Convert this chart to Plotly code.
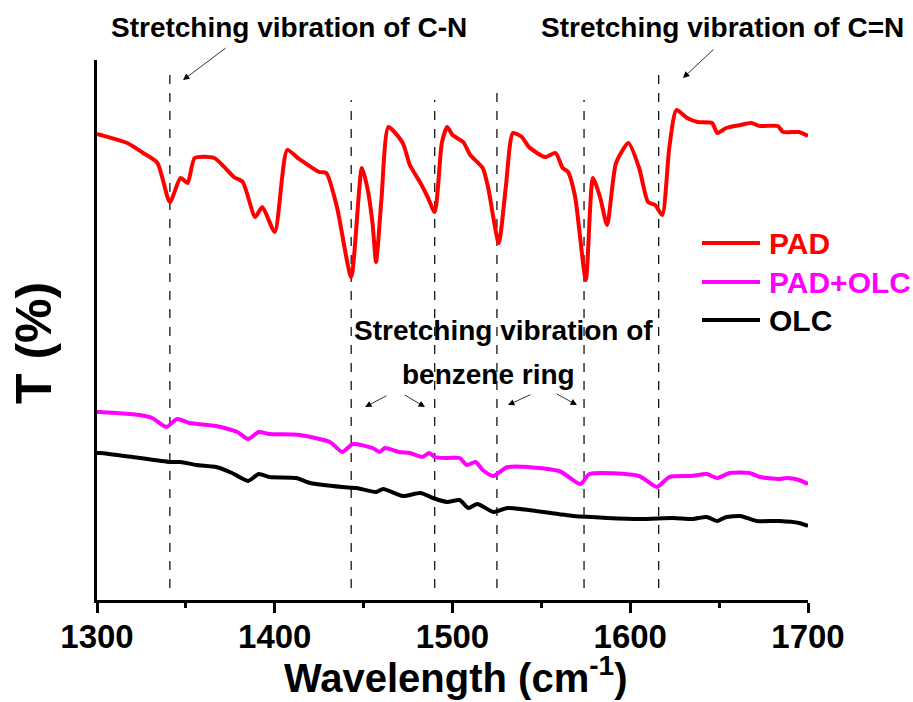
import plotly.graph_objects as go

# Wavenumber (cm-1) and transmittance (arbitrary units)
pad_x = [1300, 1302, 1317, 1326, 1334, 1341, 1347, 1351, 1355, 1366, 1377, 1382, 1389, 1393, 1400,
         1407, 1413, 1425, 1429, 1435, 1443, 1449, 1452, 1455, 1457, 1460, 1464, 1472, 1476, 1482,
         1486, 1490, 1494, 1497, 1500, 1506, 1510, 1517, 1520, 1526, 1530, 1534, 1539, 1543, 1552,
         1558, 1562, 1565, 1569, 1575, 1579, 1583, 1587, 1592, 1599, 1605, 1610, 1614, 1618, 1622,
         1626, 1632, 1638, 1646, 1649, 1654, 1662, 1668, 1673, 1683, 1686, 1695, 1700]
pad_y = [466, 465, 457, 447, 437, 398, 422, 417, 442, 442, 423, 418, 383, 393, 368,
         450, 442, 428, 427, 393, 323, 432, 413, 377, 338, 400, 473, 457, 435, 417,
         403, 388, 457, 473, 465, 458, 445, 432, 413, 357, 413, 467, 463, 453, 443,
         447, 432, 428, 403, 320, 422, 403, 375, 437, 457, 432, 398, 395, 385, 453,
         490, 482, 478, 477, 467, 472, 475, 477, 474, 474, 468, 468, 464]

padolc_x = [1300, 1302, 1324, 1331, 1339, 1345, 1352, 1367, 1379, 1385, 1391, 1397, 1414, 1431,
            1438, 1444, 1455, 1459, 1462, 1470, 1476, 1483, 1487, 1490, 1497, 1504, 1508, 1513,
            1517, 1523, 1531, 1560, 1572, 1577, 1605, 1615, 1622, 1634, 1643, 1649, 1656, 1667,
            1673, 1684, 1688, 1695, 1700]
padolc_y = [188, 188, 185, 182, 173, 181, 177, 174, 168, 161, 168, 166, 165, 158,
            148, 156, 152, 148, 152, 148, 147, 143, 147, 143, 142, 142, 135, 138,
            130, 124, 133, 129, 116, 126, 124, 113, 123, 124, 126, 122, 127, 127,
            123, 121, 122, 120, 116]

olc_x = [1300, 1302, 1320, 1341, 1347, 1356, 1367, 1376, 1385, 1391, 1397, 1412, 1420, 1438,
         1446, 1457, 1461, 1472, 1482, 1489, 1497, 1504, 1509, 1514, 1523, 1531, 1568, 1605,
         1624, 1635, 1643, 1649, 1654, 1662, 1671, 1684, 1695, 1700]
olc_y = [147, 147, 143, 138, 138, 135, 133, 127, 119, 126, 123, 122, 117, 113,
         112, 108, 111, 104, 107, 102, 98, 100, 92, 96, 88, 92, 84, 81,
         82, 81, 83, 79, 83, 84, 79, 79, 77, 74]

series_names = ["PAD", "PAD+OLC", "OLC"]
series_colors = ["#ff0000", "#ff00ff", "#000000"]

# Peak marker positions (cm-1) and the top of each dashed marker
peak_x = [1341, 1443, 1490, 1525, 1574, 1616]
peak_top = [530, 500, 500, 510, 500, 534]
peak_bottom = 12

FONT = "Liberation Sans, Arial"

W, H = 913, 702
L, R, T, B = 97, 105, 60, 102
pw, ph = W - L - R, H - T - B


def px(x):
    return (x - L) / pw


def py(y):
    return (H - B - y) / ph


fig = go.Figure()
for xs, ys, name, col in zip([pad_x, padolc_x, olc_x], [pad_y, padolc_y, olc_y], series_names, series_colors):
    fig.add_trace(go.Scatter(x=xs, y=ys, mode="lines", name=name, showlegend=False,
                             line=dict(color=col, width=4, shape="spline", smoothing=0.6)))

for xv, top in zip(peak_x, peak_top):
    fig.add_shape(type="line", x0=xv, x1=xv, y0=peak_bottom, y1=top, xref="x", yref="y",
                  line=dict(color="black", width=1.2, dash="dash"), layer="below")

# Arrows (tip, tail) in data coordinates
arrows = [
    ((1348.4, 520), (1373.2, 553)),
    ((1629.7, 522), (1647.7, 552)),
    ((1450.8, 193), (1463.7, 205)),
    ((1484.5, 193), (1472.2, 206)),
    ((1531.2, 195), (1544.7, 206)),
    ((1570.0, 195), (1557.7, 207)),
]
for (tx, ty), (sx, sy) in arrows:
    fig.add_annotation(x=tx, y=ty, ax=sx, ay=sy, xref="x", yref="y", axref="x", ayref="y",
                       text="", showarrow=True, arrowhead=2, arrowsize=1.6, arrowwidth=0.8,
                       arrowcolor="black")

label_font = dict(family=FONT, size=28, color="black", weight="bold")
labels = [("Stretching vibration of C-N", 289, 28),
          ("Stretching vibration of C=N", 722, 28),
          ("Stretching vibration of", 503, 331),
          ("benzene ring", 488, 374)]
for txt, x0, y0 in labels:
    fig.add_annotation(x=px(x0), y=py(y0), xref="paper", yref="paper", text=txt,
                       showarrow=False, font=label_font, xanchor="center", yanchor="middle")

# Legend drawn by hand: line + coloured label per series
legend_rows = [243, 282, 320]
for name, col, yrow in zip(series_names, series_colors, legend_rows):
    fig.add_shape(type="line", xref="paper", yref="paper", x0=px(702), x1=px(760),
                  y0=py(yrow), y1=py(yrow), line=dict(color=col, width=4))
    fig.add_annotation(x=px(767), y=py(yrow), xref="paper", yref="paper", text=name,
                       showarrow=False, xanchor="left", yanchor="middle",
                       font=dict(family=FONT, size=30, color=col, weight="bold"))

# Axis titles
fig.add_annotation(x=px(455), y=py(702), xref="paper", yref="paper",
                   text="Wavelength (cm<sup>-1</sup>)", showarrow=False,
                   xanchor="center", yanchor="bottom",
                   font=dict(family=FONT, size=40, color="black", weight="bold"))
fig.add_annotation(x=px(34), y=py(343), xref="paper", yref="paper", text="T (%)", textangle=-90,
                   showarrow=False, xanchor="center", yanchor="middle",
                   font=dict(family=FONT, size=50, color="black", weight="bold"))

fig.update_layout(
    width=W, height=H,
    margin=dict(l=L, r=R, t=T, b=B),
    plot_bgcolor="white", paper_bgcolor="white",
    font=dict(family=FONT, color="black"),
    showlegend=False,
    xaxis=dict(range=[1300, 1700], tickvals=[1300, 1400, 1500, 1600, 1700],
               showline=True, linecolor="black", linewidth=3, ticks="outside", ticklen=10,
               tickwidth=3, tickcolor="black", showgrid=False, zeroline=False,
               tickfont=dict(family=FONT, size=33, color="black", weight="bold"),
               ticklabelstandoff=-5,
               minor=dict(dtick=50, tick0=1300, ticks="outside", ticklen=5, tickwidth=3,
                          tickcolor="black")),
    yaxis=dict(range=[0, 540], showline=True, linecolor="black", linewidth=3, ticks="",
               showticklabels=False, showgrid=False, zeroline=False),
)

fig.write_html("out.html")
